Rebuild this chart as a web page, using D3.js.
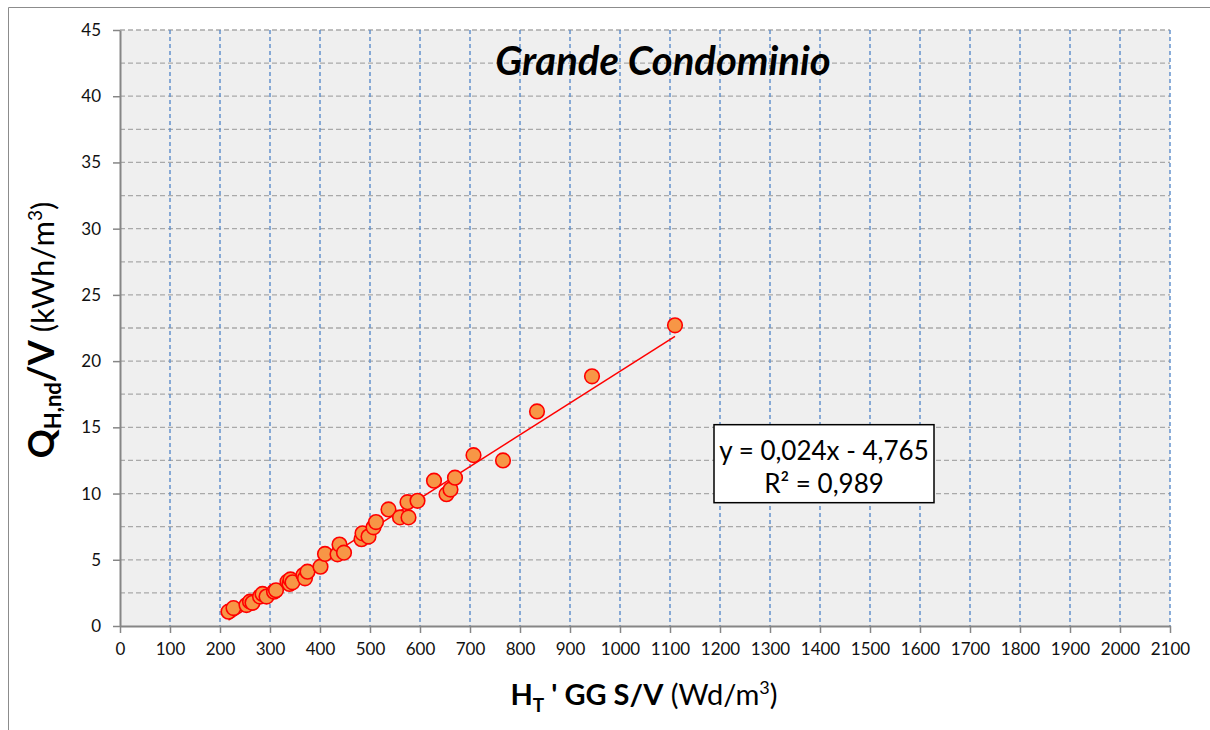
<!DOCTYPE html>
<html>
<head>
<meta charset="utf-8">
<script src="https://cdnjs.cloudflare.com/ajax/libs/d3/7.8.5/d3.min.js"></script>
<style>
  body { margin: 0; background: #fff; }
  svg text { font-family: Lato, "Liberation Sans", sans-serif; }
</style>
</head>
<body>
<div id="chart"></div>
<script>
// valori
var xValues = [217, 227, 253, 260, 265, 280, 285, 293, 308, 312, 335, 339, 341, 345, 367, 370, 375,
               401, 410, 435, 439, 448, 483, 485, 497, 507, 512, 537, 560, 577, 575, 595, 628,
               653, 661, 670, 707, 766, 834, 944, 1110];
var yValues = [1.08, 1.35, 1.58, 1.84, 1.75, 2.22, 2.42, 2.22, 2.59, 2.7, 3.35, 3.17, 3.52, 3.3, 3.85, 3.6, 4.1,
               4.48, 5.44, 5.41, 6.15, 5.54, 6.55, 7.0, 6.75, 7.45, 7.85, 8.8, 8.2, 8.2, 9.35, 9.45, 10.97,
               9.95, 10.3, 11.2, 12.9, 12.5, 16.2, 18.85, 22.7];
var xTicks = d3.range(0, 2101, 100);
var yTicks = d3.range(0, 46, 5);
var yGrid = d3.range(0, 45.1, 2.5);
var slope = 0.024, intercept = -4.765;
var equationText = "y = 0,024x - 4,765";
var r2Text = "R² = 0,989";

var data = xValues.map(function (d, i) { return { x: d, y: yValues[i] }; });

var svgWidth = 1210, svgHeight = 730;
var margin = { top: 30, right: 40, bottom: 104, left: 120 },
    width = svgWidth - margin.left - margin.right,
    height = svgHeight - margin.top - margin.bottom;

var svg = d3.select("#chart").append("svg")
    .attr("width", svgWidth)
    .attr("height", svgHeight);

// cornice esterna
svg.append("path")
    .attr("d", "M8.5,730 V7.5 H1210")
    .attr("fill", "none")
    .attr("stroke", "#8c8c8c")
    .attr("stroke-width", 1);

var x = d3.scaleLinear().domain([0, 2100]).range([0, width]);
var y = d3.scaleLinear().domain([0, 45]).range([height, 0]);

var g = svg.append("g")
    .attr("transform", "translate(" + margin.left + "," + margin.top + ")");

g.append("rect")
    .attr("width", width)
    .attr("height", height)
    .attr("fill", "#efefef");

// griglia orizzontale
g.selectAll(".hgrid")
    .data(yGrid.filter(function (d) { return d > 0; }))
    .enter().append("line")
    .attr("class", "hgrid")
    .attr("x1", 0).attr("x2", width)
    .attr("y1", function (d) { return y(d); })
    .attr("y2", function (d) { return y(d); })
    .attr("stroke", "#a9a9a9")
    .attr("stroke-width", 1.3)
    .attr("stroke-dasharray", "5,3");

// griglia verticale
g.selectAll(".vgrid")
    .data(xTicks.filter(function (d) { return d > 0; }))
    .enter().append("line")
    .attr("class", "vgrid")
    .attr("x1", function (d) { return x(d); })
    .attr("x2", function (d) { return x(d); })
    .attr("y1", 0).attr("y2", height)
    .attr("stroke", "#5b8ccb")
    .attr("stroke-width", 1.4)
    .attr("stroke-dasharray", "4,3");

// assi
g.append("g")
    .attr("class", "axis axis-x")
    .attr("transform", "translate(0," + height + ")")
    .call(d3.axisBottom(x).tickValues(xTicks).tickFormat(d3.format("d"))
        .tickSize(7).tickSizeOuter(0).tickPadding(10));
g.append("g")
    .attr("class", "axis axis-y")
    .call(d3.axisLeft(y).tickValues(yTicks).tickFormat(d3.format("d"))
        .tickSize(7).tickSizeOuter(0).tickPadding(12));

g.selectAll(".axis .domain").attr("stroke", "#868686").attr("stroke-width", 2);
g.selectAll(".axis .tick line").attr("stroke", "#868686").attr("stroke-width", 1.5);
g.selectAll(".axis .tick text")
    .attr("fill", "#111")
    .style("font-size", "17px")
    .style("font-family", "Lato, sans-serif");

// linea di tendenza
var xExt = d3.extent(xValues);
g.append("line")
    .attr("x1", x(xExt[0])).attr("y1", y(slope * xExt[0] + intercept))
    .attr("x2", x(xExt[1])).attr("y2", y(slope * xExt[1] + intercept))
    .attr("stroke", "#ff0000")
    .attr("stroke-width", 1.5);

// punti
g.selectAll(".dot")
    .data(data)
    .enter().append("circle")
    .attr("class", "dot")
    .attr("cx", function (d) { return x(d.x); })
    .attr("cy", function (d) { return y(d.y); })
    .attr("r", 7.3)
    .attr("fill", "#f79646")
    .attr("stroke", "#ff0000")
    .attr("stroke-width", 1.6);

// titolo
g.append("text")
    .attr("x", x(1086))
    .attr("y", 45)
    .attr("text-anchor", "middle")
    .style("font-size", "40px")
    .style("font-weight", "bold")
    .style("font-style", "italic")
    .text("Grande Condominio");

// etichetta equazione
var box = g.append("g").attr("transform", "translate(" + x(1188) + "," + y(15.2) + ")");
box.append("rect")
    .attr("width", 220)
    .attr("height", 78)
    .attr("fill", "#fff")
    .attr("stroke", "#000")
    .attr("stroke-width", 1.5);
box.append("text")
    .attr("x", 110).attr("y", 35)
    .attr("text-anchor", "middle")
    .style("font-size", "26px")
    .text(equationText);
box.append("text")
    .attr("x", 110).attr("y", 68)
    .attr("text-anchor", "middle")
    .style("font-size", "26px")
    .text(r2Text);

// titolo asse x
var xt = svg.append("text")
    .attr("x", 644)
    .attr("y", 705)
    .attr("text-anchor", "middle")
    .style("font-size", "29px");
xt.append("tspan").style("font-weight", "bold").text("H");
xt.append("tspan").style("font-weight", "bold").style("font-size", "19px").attr("dy", 7).text("T");
xt.append("tspan").style("font-weight", "bold").attr("dy", -7).text(" ' GG S/V");
xt.append("tspan").text(" (Wd/m");
xt.append("tspan").style("font-size", "18px").attr("dy", -11).text("3");
xt.append("tspan").attr("dy", 11).text(")");

// titolo asse y
var yt = svg.append("text")
    .attr("transform", "translate(54,330) rotate(-90)")
    .attr("text-anchor", "middle")
    .style("font-size", "31px");
yt.append("tspan").style("font-weight", "bold").style("font-size", "36px").text("Q");
yt.append("tspan").style("font-weight", "bold").style("font-size", "22px").attr("dy", 7).text("H,nd");
yt.append("tspan").style("font-weight", "bold").style("font-size", "36px").attr("dy", -7).text("/V");
yt.append("tspan").text(" (kWh/m");
yt.append("tspan").style("font-size", "19px").attr("dy", -12).text("3");
yt.append("tspan").attr("dy", 12).text(")");
</script>
</body>
</html>
